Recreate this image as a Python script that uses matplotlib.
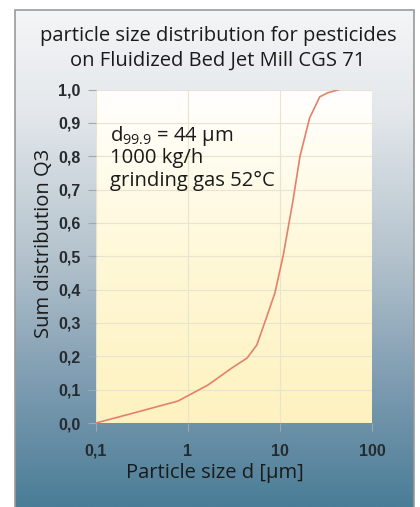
import matplotlib.pyplot as plt
import numpy as np
from matplotlib.colors import LinearSegmentedColormap
from matplotlib.patches import Rectangle

# particle size d [µm] and cumulative distribution Q3
size_um = [0.1, 0.3, 0.78, 1.65, 3.0, 4.4, 5.6, 7.0, 8.8, 10.8, 13.8, 16.5, 21, 24, 27, 33, 44]
q3 = [0.0, 0.035, 0.066, 0.114, 0.165, 0.195, 0.234, 0.31, 0.39, 0.50, 0.665, 0.80, 0.915, 0.948, 0.978, 0.99, 1.0]

yticks = [0.0, 0.1, 0.2, 0.3, 0.4, 0.5, 0.6, 0.7, 0.8, 0.9, 1.0]
ytick_labels = ["0,0", "0,1", "0,2", "0,3", "0,4", "0,5", "0,6", "0,7", "0,8", "0,9", "1,0"]
xticks = [0.1, 1, 10, 100]
xtick_labels = ["0,1", "1", "10", "100"]

plt.rcParams["mathtext.fontset"] = "custom"
plt.rcParams["mathtext.rm"] = "Open Sans"

W, H = 420, 507
fig = plt.figure(figsize=(W / 100, H / 100), dpi=100)
fig.patch.set_facecolor("white")

# outer panel with a light-to-steel-blue gradient
bg = fig.add_axes([15 / W, 0, (414 - 15) / W, 1 - 10 / H])
bg.set_axis_off()
panel_cmap = LinearSegmentedColormap.from_list(
    "panel", [(0.0, "#f4f5f6"), (0.2, "#e4e8ec"), (0.5, "#b3c2cc"), (0.75, "#7e9cb1"), (1.0, "#4a7d97")])
grad = np.linspace(0, 1, 256).reshape(-1, 1)
bg.imshow(grad, aspect="auto", cmap=panel_cmap, extent=[0, 1, 0, 1], origin="upper")
bg.set_xlim(0, 1); bg.set_ylim(0, 1)
fig.patches.append(Rectangle((15 / W, -0.01), (414 - 15) / W, 1 - 10 / H + 0.01,
                             transform=fig.transFigure, fill=False, edgecolor="#9a9a9a", linewidth=1.2))

ax = fig.add_axes([96 / W, 1 - 423 / H, (372 - 96) / W, (423 - 89.5) / H])
ax.set_xscale("log")
ax.set_xlim(0.1, 100)
ax.set_ylim(0, 1)

# plot area: white at the top to pale yellow at the bottom
area_cmap = LinearSegmentedColormap.from_list("area", ["#ffffff", "#fff8d8", "#fdf2bf"])
ax.imshow(grad, aspect="auto", cmap=area_cmap, extent=[0, 1, 0, 1], origin="upper",
          transform=ax.transAxes, zorder=0)

ax.grid(True, which="major", color="#e8e4cf", linewidth=0.8, zorder=1)
ax.set_yticks(yticks)
ax.set_yticklabels(ytick_labels)
ax.set_xticks(xticks)
ax.set_xticklabels(xtick_labels)
ax.minorticks_off()
ax.tick_params(axis="both", direction="out", length=6, width=0.8, color="#a0a8ae",
               labelsize=11.5, labelcolor="#262b30", pad=5)
for lab in ax.get_xticklabels() + ax.get_yticklabels():
    lab.set_fontfamily("Liberation Sans")
    lab.set_fontweight("bold")
ax.tick_params(axis="x", pad=9)
for s in ax.spines.values():
    s.set_visible(False)

ax.plot(size_um, q3, color="#e58069", linewidth=1.2, zorder=3)

txt = dict(fontfamily="Open Sans", fontsize=14.6, color="#1a1a1a")
ax.text(0.05, 0.862, r"d$_{\mathrm{99.9}}$ = 44 µm", va="center", ha="left", transform=ax.transAxes,
        **txt)
ax.text(0.05, 0.795, "1000 kg/h", va="center", ha="left", transform=ax.transAxes, **txt)
ax.text(0.05, 0.726, "grinding gas 52°C", va="center", ha="left", transform=ax.transAxes, **txt)

lab = dict(fontfamily="Open Sans", fontsize=14.5, color="#1a1a1a")
fig.text(218 / W, 1 - 36 / H, "particle size distribution for pesticides", ha="center", va="center", **lab)
fig.text(218 / W, 1 - 61 / H, "on Fluidized Bed Jet Mill CGS 71", ha="center", va="center", **lab)
fig.text(215 / W, 1 - 473 / H, "Particle size d [µm]", ha="center", va="center", **lab)
fig.text(44 / W, 1 - 243 / H, "Sum distribution Q3", ha="center", va="center", rotation=90, **lab)

fig.savefig("out.png", dpi=100)
